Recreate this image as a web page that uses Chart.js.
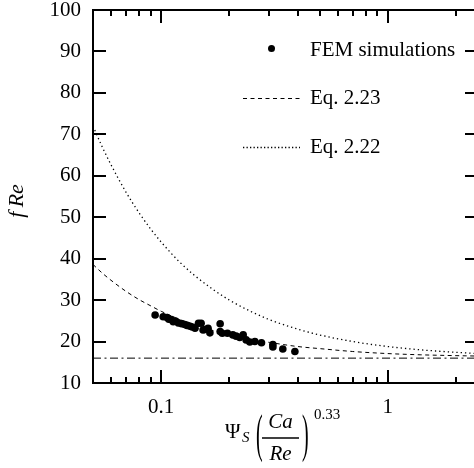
<!DOCTYPE html>
<html><head><meta charset="utf-8">
<script src="https://cdn.jsdelivr.net/npm/chart.js@4.4.1/dist/chart.umd.min.js"></script>
<style>html,body{margin:0;padding:0;overflow:hidden;background:#fff;width:474px;height:468px}canvas{display:block}</style>
</head><body>
<canvas id="c" width="482" height="468" style="width:482px;height:468px"></canvas>
<script>
// FEM simulation points
const femX = [0.094,0.102,0.106,0.108,0.111,0.113,0.116,0.119,0.123,0.127,0.130,0.134,0.137,0.141,0.146,0.150,0.153,0.156,0.161,0.164,0.182,0.182,0.186,0.196,0.207,0.214,0.222,0.230,0.237,0.246,0.259,0.277,0.311,0.311,0.344,0.389];
const femY = [26.4,26.0,25.8,25.4,25.3,24.8,24.9,24.5,24.3,24.1,23.9,23.7,23.5,23.2,24.4,24.4,22.8,22.9,23.2,22.1,24.3,22.4,22.0,22.0,21.6,21.3,21.0,21.6,20.4,19.9,20.0,19.7,19.3,18.7,18.2,17.6];
// Equation curves
const eqX    = [0.05,0.055,0.06,0.07,0.08,0.09,0.1,0.12,0.14,0.17,0.2,0.25,0.3,0.4,0.5,0.7,1.0,1.4,2.0,2.5];
const eq223Y = [38.6,36.5,34.8,32.1,30.1,28.6,27.3,25.4,24.1,22.6,21.7,20.5,19.8,18.8,18.3,17.6,17.1,16.8,16.6,16.5];
const eq222Y = [72.0,66.9,62.7,56.0,51.0,47.1,44.0,39.3,36.0,32.5,30.0,27.2,25.3,23.0,21.6,20.0,18.8,18.0,17.4,17.1];
const laminarX = [0.05, 2.5];
const laminarY = [16, 16];
const legendLabels = ['FEM simulations', 'Eq. 2.23', 'Eq. 2.22'];
const xTickLabelValues = [0.1, 1];
const xMinorTickValues = [0.06,0.07,0.08,0.09,0.2,0.3,0.4,0.5,0.6,0.7,0.8,0.9,2];
const xMajorTickValues = [0.1, 1];
const yTickValues = [20,30,40,50,60,70,80,90];
const yMin = 10, yMax = 100, yStep = 10;
const xMin = 0.05, xMax = 2.5;

const pts = (xs, ys) => xs.map((v, i) => ({x: v, y: ys[i]}));
const FONT = '"Liberation Serif", "Times New Roman", serif';

const framePlugin = {
  id: 'frame',
  afterDraw(chart) {
    const {ctx, chartArea: a, scales: {x, y}} = chart;
    ctx.save();
    ctx.strokeStyle = '#000';
    ctx.lineWidth = 2;
    ctx.setLineDash([]);
    const seg = (x1, y1, x2, y2) => { ctx.beginPath(); ctx.moveTo(x1, y1); ctx.lineTo(x2, y2); ctx.stroke(); };
    ctx.strokeRect(a.left, a.top, a.right - a.left, a.bottom - a.top);
    const xt = (v, len) => {
      const px = Math.round(x.getPixelForValue(v));
      seg(px, a.bottom, px, a.bottom - len);
      seg(px, a.top, px, a.top + len);
    };
    xMinorTickValues.forEach(v => xt(v, 6));
    xMajorTickValues.forEach(v => xt(v, 13));
    yTickValues.forEach(v => {
      const py = Math.round(y.getPixelForValue(v));
      seg(a.left, py, a.left + 13, py);
      seg(a.right, py, a.right - 13, py);
    });

    // legend
    ctx.fillStyle = '#000';
    ctx.font = '21px ' + FONT;
    ctx.textBaseline = 'alphabetic';
    ctx.textAlign = 'left';
    ctx.beginPath(); ctx.arc(271.5, 48.5, 3.5, 0, Math.PI * 2); ctx.fill();
    ctx.fillText(legendLabels[0], 310, 56);
    ctx.lineWidth = 1;
    ctx.setLineDash([4, 3.5]);
    seg(243, 98.5, 300, 98.5);
    ctx.fillText(legendLabels[1], 310, 104);
    ctx.lineWidth = 1.3;
    ctx.setLineDash([1.3, 2.2]);
    seg(243, 147.5, 300, 147.5);
    ctx.setLineDash([]);
    ctx.fillText(legendLabels[2], 310, 153);

    // y title
    ctx.save();
    ctx.translate(23, 201);
    ctx.rotate(-Math.PI / 2);
    ctx.font = 'italic 22px ' + FONT;
    ctx.textAlign = 'center';
    ctx.fillText('f\u2009Re', 0, 0);
    ctx.restore();

    // x title
    ctx.font = '21px ' + FONT;
    ctx.textAlign = 'left';
    ctx.fillText('\u03A8', 225, 438);
    ctx.font = 'italic 15px ' + FONT;
    ctx.fillText('S', 242, 442);
    ctx.save();
    ctx.font = '20px ' + FONT;
    ctx.translate(256, 437);
    ctx.scale(1, 2.6);
    ctx.textBaseline = 'middle';
    ctx.fillText('(', 0, 0);
    ctx.restore();
    ctx.save();
    ctx.font = '20px ' + FONT;
    ctx.translate(302, 437);
    ctx.scale(1, 2.6);
    ctx.textBaseline = 'middle';
    ctx.fillText(')', 0, 0);
    ctx.restore();
    ctx.font = 'italic 21px ' + FONT;
    ctx.textAlign = 'center';
    ctx.fillText('Ca', 280.5, 428);
    ctx.fillText('Re', 280.5, 460);
    ctx.lineWidth = 1.4;
    seg(262, 438, 299, 438);
    ctx.font = '15px ' + FONT;
    ctx.textAlign = 'left';
    ctx.fillText('0.33', 314, 419);
    ctx.restore();
  }
};

new Chart(document.getElementById('c'), {
  type: 'scatter',
  data: {
    datasets: [
      { label: legendLabels[0], data: pts(femX, femY), backgroundColor: '#000', borderColor: '#000', pointRadius: 3.8, pointBorderWidth: 0, showLine: false },
      { label: legendLabels[1], data: pts(eqX, eq223Y), showLine: true, borderColor: '#000', borderWidth: 1, borderDash: [4, 3.5], pointRadius: 0, cubicInterpolationMode: 'monotone' },
      { label: legendLabels[2], data: pts(eqX, eq222Y), showLine: true, borderColor: '#000', borderWidth: 1.3, borderDash: [1.3, 3], pointRadius: 0, cubicInterpolationMode: 'monotone' },
      { label: 'laminar', data: pts(laminarX, laminarY), showLine: true, borderColor: '#000', borderWidth: 1, borderDash: [8, 3.5, 2, 3.5], pointRadius: 0 }
    ]
  },
  options: {
    responsive: false,
    animation: false,
    events: [],
    layout: { padding: { top: 10, right: 2, left: 0, bottom: 0 } },
    plugins: { legend: { display: false }, tooltip: { enabled: false } },
    scales: {
      x: {
        type: 'logarithmic', min: xMin, max: xMax,
        grid: { display: false, drawTicks: false },
        border: { display: false },
        ticks: {
          autoSkip: false, maxRotation: 0, padding: 12, color: '#000',
          font: { family: FONT, size: 21 },
          callback: (v) => {
            const hit = xTickLabelValues.find(t => Math.abs(t - v) / t < 1e-6);
            return hit === undefined ? '' : String(hit);
          }
        },
        afterFit: (s) => { s.height = 85; s.paddingLeft = 0; s.paddingRight = 0; }
      },
      y: {
        min: yMin, max: yMax,
        grid: { display: false, drawTicks: false },
        border: { display: false },
        ticks: { stepSize: yStep, padding: 12, color: '#000', font: { family: FONT, size: 21 } },
        afterFit: (s) => { s.width = 93; s.paddingTop = 0; s.paddingBottom = 0; }
      }
    }
  },
  plugins: [framePlugin]
});
</script>
</body></html>
